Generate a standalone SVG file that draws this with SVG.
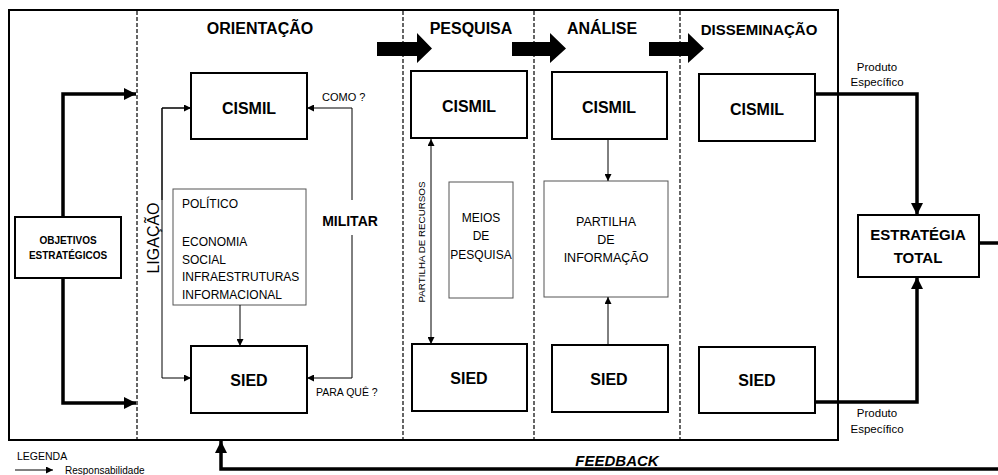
<svg xmlns="http://www.w3.org/2000/svg" width="998" height="475" viewBox="0 0 998 475">
<defs>
<style>
.t{font-family:"Liberation Sans",Arial,sans-serif;fill:#000}
.b{font-weight:bold}
.box{fill:#fff;stroke:#000;stroke-width:2}
.sub{fill:#fff;stroke:#555;stroke-width:1}
.thin{fill:none;stroke:#000;stroke-width:1}
.thick{fill:none;stroke:#000;stroke-width:3.5}
.dash{fill:none;stroke:#000;stroke-width:1.2;stroke-dasharray:4,2}
</style>
<marker id="ah" viewBox="0 0 10 10" refX="10" refY="5" markerWidth="7" markerHeight="7" markerUnits="userSpaceOnUse" orient="auto-start-reverse"><path d="M0,0L10,5L0,10z" fill="#000"/></marker>
<marker id="AH" viewBox="0 0 10 10" refX="10" refY="5" markerWidth="12" markerHeight="12" markerUnits="userSpaceOnUse" orient="auto"><path d="M0,0L10,5L0,10z" fill="#000"/></marker>
</defs>
<rect width="998" height="475" fill="#fff"/>
<g id="frame">
<rect x="9" y="10" width="829" height="430" fill="none" stroke="#000" stroke-width="2"/>
<line class="dash" x1="137" y1="11" x2="137" y2="439"/>
<line class="dash" x1="403" y1="11" x2="403" y2="439"/>
<line class="dash" x1="534" y1="11" x2="534" y2="439"/>
<line class="dash" x1="680" y1="11" x2="680" y2="439"/>
</g>
<g id="titles">
<text class="t b" x="260" y="34" font-size="16" text-anchor="middle">ORIENTAÇÃO</text>
<text class="t b" x="471" y="34" font-size="16" text-anchor="middle">PESQUISA</text>
<text class="t b" x="602" y="34" font-size="16" text-anchor="middle">ANÁLISE</text>
<text class="t b" x="759" y="35" font-size="15" text-anchor="middle">DISSEMINAÇÃO</text>
</g>
<g id="phase-arrows">
<polygon points="377,42 417,42 417,33 432,48.5 417,63 417,56 377,56" fill="#000"/>
<polygon points="512,42 550,42 550,33 566,48.5 550,63 550,56 512,56" fill="#000"/>
<polygon points="649,42 688,42 688,33 704,48.5 688,63 688,56 649,56" fill="#000"/>
</g>
<g id="objetivos">
<rect class="box" x="15" y="217" width="106" height="61"/>
<text class="t b" x="68" y="244" font-size="10" text-anchor="middle">OBJETIVOS</text>
<text class="t b" x="68" y="259" font-size="10" text-anchor="middle">ESTRATÉGICOS</text>
</g>
<g id="orient-cismil">
<rect class="box" x="191" y="73" width="116" height="66"/>
<text class="t b" x="249" y="114" font-size="16" text-anchor="middle">CISMIL</text>
</g>
<g id="orient-sied">
<rect class="box" x="191" y="346" width="116" height="67"/>
<text class="t b" x="249" y="386" font-size="16" text-anchor="middle">SIED</text>
</g>
<g id="dominios">
<rect class="sub" x="173" y="189" width="133" height="116"/>
<text class="t" x="182" y="208" font-size="12">POLÍTICO</text>
<text class="t" x="182" y="246" font-size="12">ECONOMIA</text>
<text class="t" x="182" y="264" font-size="12">SOCIAL</text>
<text class="t" x="182" y="281" font-size="12">INFRAESTRUTURAS</text>
<text class="t" x="182" y="299" font-size="12">INFORMACIONAL</text>
</g>
<g id="labels-orient">
<text class="t" x="0" y="0" font-size="16" text-anchor="middle" transform="translate(159,238) rotate(-90)">LIGAÇÃO</text>
<text class="t b" x="350" y="226" font-size="14" text-anchor="middle">MILITAR</text>
<text class="t" x="322" y="101" font-size="11">COMO ?</text>
<text class="t" x="316" y="396" font-size="10.5">PARA QUÊ ?</text>
</g>
<g id="pesq-cismil">
<rect class="box" x="411" y="71" width="116" height="67"/>
<text class="t b" x="469" y="112" font-size="16" text-anchor="middle">CISMIL</text>
</g>
<g id="pesq-sied">
<rect class="box" x="412" y="344" width="115" height="67"/>
<text class="t b" x="469" y="384" font-size="16" text-anchor="middle">SIED</text>
</g>
<g id="meios">
<rect class="sub" x="449" y="182" width="64" height="116"/>
<text class="t" x="481" y="222" font-size="12" text-anchor="middle">MEIOS</text>
<text class="t" x="481" y="240" font-size="12" text-anchor="middle">DE</text>
<text class="t" x="481" y="259" font-size="12" text-anchor="middle">PESQUISA</text>
</g>
<text class="t" x="0" y="0" font-size="9.8" text-anchor="middle" transform="translate(425,242) rotate(-90)">PARTILHA DE RECURSOS</text>
<g id="anal-cismil">
<rect class="box" x="552" y="72" width="115" height="67"/>
<text class="t b" x="609" y="113" font-size="16" text-anchor="middle">CISMIL</text>
</g>
<g id="anal-sied">
<rect class="box" x="552" y="345" width="116" height="67"/>
<text class="t b" x="609" y="385" font-size="16" text-anchor="middle">SIED</text>
</g>
<g id="partilha">
<rect class="sub" x="544" y="181" width="124" height="116"/>
<text class="t" x="606" y="226" font-size="12.5" text-anchor="middle">PARTILHA</text>
<text class="t" x="606" y="244" font-size="12.5" text-anchor="middle">DE</text>
<text class="t" x="606" y="262" font-size="12.5" text-anchor="middle">INFORMAÇÃO</text>
</g>
<g id="diss-cismil">
<rect class="box" x="699" y="74" width="116" height="67"/>
<text class="t b" x="757" y="115" font-size="16" text-anchor="middle">CISMIL</text>
</g>
<g id="diss-sied">
<rect class="box" x="699" y="347" width="116" height="66"/>
<text class="t b" x="757" y="386" font-size="16" text-anchor="middle">SIED</text>
</g>
<g id="estrategia">
<rect class="box" x="858" y="215" width="121" height="62"/>
<text class="t b" x="918" y="240" font-size="15" text-anchor="middle">ESTRATÉGIA</text>
<text class="t b" x="918" y="263" font-size="15" text-anchor="middle">TOTAL</text>
</g>
<g id="produto-labels">
<text class="t" x="877" y="71" font-size="11.5" text-anchor="middle">Produto</text>
<text class="t" x="877" y="86" font-size="11.5" text-anchor="middle">Específico</text>
<text class="t" x="877" y="417" font-size="11.5" text-anchor="middle">Produto</text>
<text class="t" x="877" y="433" font-size="11.5" text-anchor="middle">Específico</text>
</g>
<g id="connectors">
<path class="thick" d="M63,217V94H136" marker-end="url(#AH)"/>
<path class="thick" d="M63,278V403H136" marker-end="url(#AH)"/>
<path class="thin" d="M240,305V346" marker-end="url(#ah)"/>
<path class="thin" d="M191,108H162V378H191" marker-end="url(#ah)"/>
<path class="thin" d="M162,200V108H191" marker-end="url(#ah)"/>
<path class="thin" d="M352,200V108H307" marker-end="url(#ah)"/>
<path class="thin" d="M352,235V378H307" marker-end="url(#ah)"/>
<path class="thin" d="M431,139V344" marker-start="url(#ah)" marker-end="url(#ah)"/>
<path class="thin" d="M608,139V181" marker-end="url(#ah)"/>
<path class="thin" d="M608,345V297" marker-end="url(#ah)"/>
<path class="thick" d="M815,94H917V215" marker-end="url(#AH)"/>
<path class="thick" d="M815,402H917V277" marker-end="url(#AH)"/>
<path class="thick" d="M979,243H998"/>
<path class="thick" d="M998,469H221V441" marker-end="url(#AH)"/>
</g>
<g id="feedback-label">
<text class="t b" x="617" y="466" font-size="15" font-style="italic" text-anchor="middle">FEEDBACK</text>
</g>
<g id="legend">
<text class="t" x="17" y="460" font-size="10.5">LEGENDA</text>
<line class="thin" x1="15" y1="470" x2="53" y2="470" marker-end="url(#ah)"/>
<text class="t" x="65" y="474" font-size="10">Responsabilidade</text>
</g>
</svg>
